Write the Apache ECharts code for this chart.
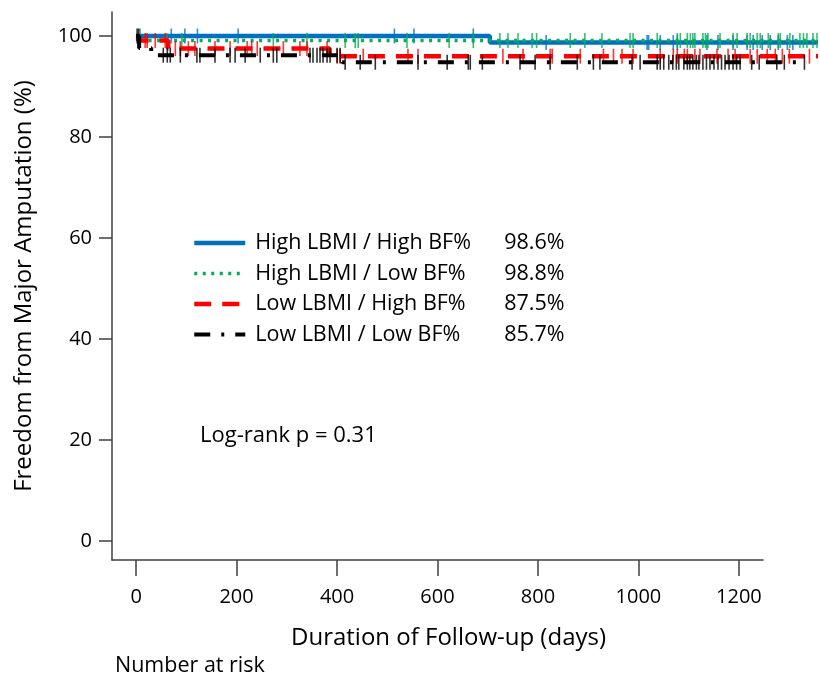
<!DOCTYPE html>
<html>
<head>
<meta charset="utf-8">
<title>Freedom from Major Amputation</title>
<script src="https://cdn.jsdelivr.net/npm/echarts@6/dist/echarts.min.js"></script>
<style>
  html, body { margin: 0; padding: 0; background: #ffffff; }
  #chart { width: 820px; height: 678px; }
</style>
</head>
<body>
<div id="chart"></div>
<script>
// Groups and the percentages listed beside them
const groupNames = ['High LBMI / High BF%', 'High LBMI / Low BF%', 'Low LBMI / High BF%', 'Low LBMI / Low BF%'];
const groupRates = ['98.6%', '98.8%', '87.5%', '85.7%'];

// Kaplan-Meier steps: day of each drop and survival (%) from that day on
const blueStepDays = [0, 704];
const blueStepSurv = [100, 98.7];
const greenStepDays = [0, 12];
const greenStepSurv = [100, 99.1];
const redStepDays = [0, 4, 64, 385];
const redStepSurv = [100, 99.1, 97.5, 96.0];
const blackStepDays = [0, 6, 30, 410];
const blackStepSurv = [100, 97.6, 96.2, 94.8];

// Last day of follow-up per group
const followEnd = [1357, 1357, 1357, 1335];

// Censored observations (days)
const blueCensor = [70, 97, 122, 203, 514, 553, 671, 816, 1017, 1020, 1043, 1069, 1077, 1136, 1158, 1188, 1216, 1228, 1246, 1262, 1278, 1296, 1307];
const greenCensor = [8, 61, 91, 273, 340, 416, 436, 442, 539, 623, 671, 724, 740, 760, 788, 797, 864, 893, 927, 983, 989, 1037, 1077, 1083, 1097, 1103, 1108, 1112, 1128, 1133, 1138, 1162, 1188, 1196, 1216, 1222, 1236, 1242, 1258, 1278, 1282, 1301, 1321, 1328, 1335, 1347, 1355];
const redCensor = [18, 22, 38, 58, 78, 88, 104, 117, 157, 187, 221, 230, 241, 293, 326, 340, 380, 400, 406, 452, 541, 561, 730, 770, 824, 828, 884, 930, 950, 967, 989, 1043, 1069, 1077, 1091, 1097, 1112, 1122, 1156, 1178, 1192, 1222, 1236, 1256, 1272, 1286, 1300, 1340];
const blackCensor = [2, 5, 54, 62, 68, 88, 121, 127, 157, 187, 197, 217, 247, 273, 280, 346, 352, 360, 366, 372, 380, 386, 400, 406, 416, 446, 476, 561, 619, 661, 665, 689, 764, 794, 824, 878, 910, 923, 987, 1003, 1037, 1043, 1050, 1060, 1068, 1075, 1080, 1090, 1097, 1102, 1108, 1115, 1120, 1128, 1135, 1142, 1150, 1158, 1165, 1172, 1180, 1188, 1195, 1202, 1225, 1240, 1275, 1290, 1330];

// Axis ticks
const xTicks = [0, 200, 400, 600, 800, 1000, 1200];
const yTicks = [0, 20, 40, 60, 80, 100];

const FONT = '"Open Sans", sans-serif';
const colors = ['#0070C0', '#00B050', '#FF0000', '#000000'];
const lineTypes = ['solid', [3, 5.5], [17, 11], [16, 11, 3, 11]];
const lineWidths = [4.5, 3.5, 4.5, 4];

const stepDays = [blueStepDays, greenStepDays, redStepDays, blackStepDays];
const stepSurv = [blueStepSurv, greenStepSurv, redStepSurv, blackStepSurv];
const censors = [blueCensor, greenCensor, redCensor, blackCensor];

function survivalAt(days, surv, t) {
  let s = surv[0];
  for (let i = 0; i < days.length; i++) if (days[i] <= t) s = surv[i];
  return s;
}

const series = [];
groupNames.forEach((name, g) => {
  const pts = stepDays[g].map((d, i) => [d, stepSurv[g][i]]);
  pts.push([followEnd[g], stepSurv[g][stepSurv[g].length - 1]]);
  series.push({
    name: name,
    type: 'line',
    xAxisIndex: 0, yAxisIndex: 0,
    step: 'end',
    symbol: 'none',
    data: pts,
    lineStyle: { color: colors[g], width: lineWidths[g], type: lineTypes[g], cap: 'butt' },
    itemStyle: { color: colors[g] },
    z: 2 + g * 2,
    silent: true,
    animation: false
  });
  series.push({
    name: name + ' censored',
    type: 'scatter',
    xAxisIndex: 0, yAxisIndex: 0,
    symbol: 'rect',
    symbolSize: [1.6, 15],
    data: censors[g].map(t => [t, survivalAt(stepDays[g], stepSurv[g], t)]),
    itemStyle: { color: colors[g] },
    z: 3 + g * 2,
    silent: true,
    animation: false
  });
});

const axisColor = '#404040';
const chart = echarts.init(document.getElementById('chart'), null, { renderer: 'canvas' });
chart.setOption({
  backgroundColor: '#ffffff',
  animation: false,
  grid: [
    { left: 112, right: 2, top: 12, bottom: 118 },
    { left: 112, right: 57, top: 12, bottom: 118 }
  ],
  xAxis: [
    { gridIndex: 0, type: 'value', min: -48, max: 1357, show: false },
    {
      gridIndex: 1, type: 'value', min: -48, max: 1248,
      axisLine: { show: true, onZero: false, lineStyle: { color: axisColor, width: 1.5 } },
      axisTick: { show: true, customValues: xTicks, length: 16, lineStyle: { color: axisColor, width: 1.5 } },
      axisLabel: { customValues: xTicks, formatter: v => String(v), color: '#000', fontSize: 20, fontFamily: FONT, margin: 27 },
      splitLine: { show: false },
      name: 'Duration of Follow-up (days)',
      nameLocation: 'middle',
      nameGap: 66,
      nameTextStyle: { color: '#000', fontSize: 24, fontFamily: FONT, padding: [0, 0, 0, 22] }
    }
  ],
  yAxis: [
    { gridIndex: 0, type: 'value', min: -3.76, max: 104.75, show: false },
    {
      gridIndex: 1, type: 'value', min: -3.76, max: 104.75,
      axisLine: { show: true, onZero: false, lineStyle: { color: axisColor, width: 1.5 } },
      axisTick: { show: true, customValues: yTicks, length: 13, lineStyle: { color: axisColor, width: 1.5 } },
      axisLabel: { customValues: yTicks, color: '#000', fontSize: 20, fontFamily: FONT, margin: 20 },
      splitLine: { show: false },
      name: 'Freedom from Major Amputation (%)',
      nameLocation: 'middle',
      nameGap: 76,
      nameTextStyle: { color: '#000', fontSize: 24, fontFamily: FONT }
    }
  ],
  legend: {
    orient: 'vertical',
    left: 192,
    top: 232,
    padding: 0,
    itemWidth: 51,
    itemHeight: 23,
    itemGap: 8.5,
    selectedMode: false,
    data: groupNames,
    // line only in the key, no marker
    itemStyle: { color: 'rgba(0,0,0,0)', borderColor: 'rgba(0,0,0,0)', borderWidth: 0 },
    lineStyle: { width: 'inherit' },
    formatter: name => '{n|' + name + '}{v|' + groupRates[groupNames.indexOf(name)] + '}',
    textStyle: {
      rich: {
        n: { width: 249, fontSize: 21.5, fontFamily: FONT, color: '#000', padding: [0, 0, 0, 5] },
        v: { fontSize: 21.5, fontFamily: FONT, color: '#000' }
      }
    }
  },
  graphic: [
    { type: 'text', left: 200, top: 425, silent: true,
      style: { text: 'Log-rank p = 0.31', fontSize: 22, fontFamily: FONT, fill: '#000' } },
    { type: 'text', left: 115, top: 655, silent: true,
      style: { text: 'Number at risk', fontSize: 21.5, fontFamily: FONT, fill: '#000' } }
  ],
  series: series
});
</script>
</body>
</html>
